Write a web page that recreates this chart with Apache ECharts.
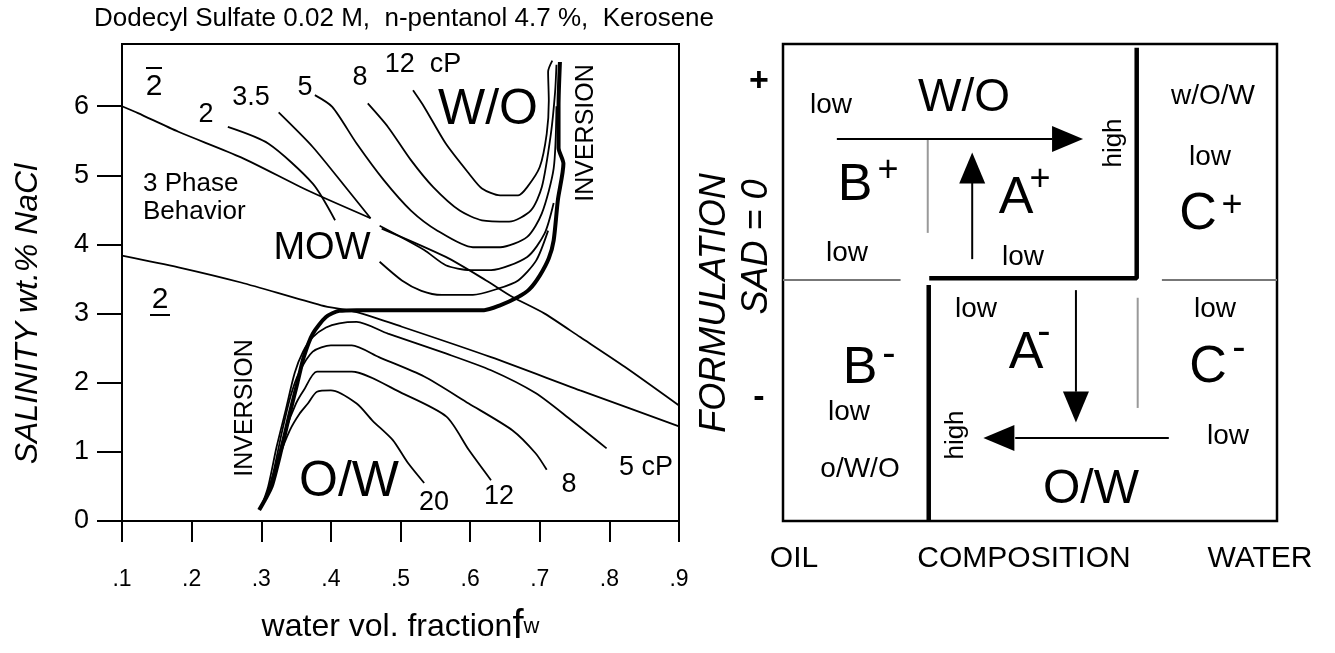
<!DOCTYPE html>
<html>
<head>
<meta charset="utf-8">
<script src="https://cdn.jsdelivr.net/npm/echarts@6/dist/echarts.min.js"></script>
<style>
  html, body { margin: 0; padding: 0; background: #fff; }
  #chart { width: 1335px; height: 653px; }
</style>
</head>
<body>
<div id="chart"></div>
<script>
// ---- left chart data: [water fraction fw, salinity wt.% NaCl] ----
const xTicks = [0.1, 0.2, 0.3, 0.4, 0.5, 0.6, 0.7, 0.8, 0.9]
const yTicks = [0, 1, 2, 3, 4, 5, 6]

// three phase boundaries
const phaseUpperA = [[0.1,6.0],[0.123,5.9],[0.181,5.63],[0.271,5.26],[0.367,4.78],[0.457,4.38]]
const phaseUpperB = [[0.473,4.23],[0.565,3.82],[0.623,3.48],[0.661,3.24],[0.707,3.0],[0.758,2.66],[0.822,2.23],[0.9,1.67]]
const phaseLower = [[0.1,3.84],[0.181,3.67],[0.271,3.45],[0.386,3.12],[0.437,3.02],[0.502,2.81],[0.63,2.37],[0.758,1.89],[0.9,1.37]]

// inversion line (thick)
const inversion = [[0.297,0.16],[0.305,0.3],[0.315,0.5],[0.328,1.0],[0.341,1.56],[0.352,2.0],[0.361,2.37],[0.374,2.71],
  [0.393,2.95],[0.412,3.04],[0.437,3.05],[0.62,3.05],[0.643,3.12],[0.669,3.24],[0.685,3.35],[0.7,3.55],[0.713,3.8],
  [0.72,4.06],[0.726,4.64],[0.734,5.17],[0.727,5.4],[0.727,6.0],[0.729,6.64]]

// O/W iso-viscosity curves (cP)
const ow5 = [[0.3,0.2],[0.31,0.5],[0.322,1.07],[0.335,1.6],[0.348,2.14],[0.36,2.45],[0.374,2.66],[0.393,2.8],[0.412,2.86],
  [0.437,2.88],[0.482,2.71],[0.566,2.42],[0.63,2.18],[0.694,1.85],[0.745,1.46],[0.796,1.05]]
const ow8 = [[0.303,0.25],[0.315,0.6],[0.33,1.3],[0.342,1.8],[0.354,2.14],[0.374,2.45],[0.4,2.54],[0.43,2.54],[0.469,2.37],
  [0.534,2.09],[0.598,1.7],[0.661,1.31],[0.694,0.98],[0.71,0.74]]
const ow12 = [[0.305,0.3],[0.318,0.7],[0.335,1.31],[0.35,1.7],[0.361,1.89],[0.38,2.16],[0.43,2.16],[0.502,1.85],[0.566,1.51],
  [0.598,1.03],[0.63,0.59]]
const ow20 = [[0.31,0.4],[0.325,0.9],[0.341,1.31],[0.355,1.55],[0.367,1.7],[0.38,1.87],[0.4,1.89],[0.437,1.7],[0.46,1.45],
  [0.489,1.17],[0.51,0.85],[0.534,0.55]]

// W/O iso-viscosity curves (cP)
const wo2A = [[0.252,5.7],[0.31,5.46],[0.374,4.88],[0.406,4.35]]
const wo2B = [[0.47,3.75],[0.502,3.48],[0.53,3.33],[0.559,3.27],[0.604,3.27],[0.64,3.36],[0.669,3.48],[0.695,3.77],[0.712,4.2]]
const wo35A = [[0.325,5.91],[0.374,5.41],[0.425,4.78],[0.457,4.38]]
const wo35B = [[0.47,4.27],[0.534,3.92],[0.565,3.7],[0.6,3.63],[0.63,3.63],[0.682,3.82],[0.707,4.16],[0.72,4.6]]
const wo5 = [[0.377,6.16],[0.402,5.99],[0.437,5.46],[0.476,4.93],[0.515,4.49],[0.553,4.2],[0.604,3.96],[0.643,3.96],
  [0.682,4.11],[0.703,4.45],[0.72,5.1],[0.724,6.0]]
const wo8 = [[0.453,6.04],[0.482,5.7],[0.515,5.22],[0.547,4.83],[0.585,4.49],[0.617,4.35],[0.656,4.33],[0.687,4.49],
  [0.703,4.83],[0.716,5.6],[0.722,6.2],[0.724,6.6]]
const wo12 = [[0.518,6.23],[0.534,5.99],[0.565,5.46],[0.598,5.03],[0.617,4.81],[0.643,4.71],[0.669,4.71],[0.682,4.83],
  [0.7,5.12],[0.71,5.6],[0.713,6.08],[0.712,6.5],[0.718,6.66]]

// ---- right diagram (schematic, 0..100 both ways) ----
const thickTop = [[29.6,50.9],[71.6,50.9],[71.6,99.2]]
const thickBottom = [[29.5,0],[29.5,49.5]]
const grayLeft = [[0,50.5],[23.8,50.5]]
const grayRight = [[76.7,50.5],[100,50.5]]
const grayV1 = [[29.3,60.4],[29.3,79.9]]
const grayV2 = [[71.8,23.7],[71.8,46.8]]
const shaftRight = [[10.9,80.1],[54.5,80.1]]
const shaftUp = [[38.3,54.9],[38.3,70.9]]
const shaftDown = [[59.3,48.4],[59.3,27.1]]
const shaftLeft = [[78.1,17.4],[47.0,17.4]]
// arrow heads: [x, y, direction deg]
const heads = [[57.6,80.1,-90],[38.3,74.0,0],[59.3,23.9,180],[43.7,17.4,90]]

const FONT = 'Liberation Sans, Arial, sans-serif'

function line(data, width, color, xi) {
  return {
    type:'line', data:data, xAxisIndex:xi, yAxisIndex:xi, showSymbol:false, symbol:'none',
    smooth: xi === 0 ? 0.25 : false, silent:true,
    lineStyle:{color:color||'#000', width:width}
  }
}

// text annotations
function txt(x, y, text, size, bold) {
  return {
    type:'text', x:x, y:y, silent:true,
    style:{text:text, fontSize:size, fontFamily:FONT, fill:'#000', align:'center', verticalAlign:'middle',
      fontWeight: bold ? 'bold' : 'normal'}
  }
}
function rot(x, y, text, size, italic) {
  return {
    type:'text', x:x, y:y, rotation:Math.PI/2, silent:true,
    style:{text:text, fontSize:size, fontFamily:FONT, fill:'#000', align:'center', verticalAlign:'middle',
      fontStyle: italic ? 'italic' : 'normal'}
  }
}
function left(x, y, text, size) {
  let t = txt(x, y, text, size)
  t.style.align = 'left'
  return t
}
function bar(x1, x2, y) {
  return {type:'line', silent:true, shape:{x1:x1, y1:y, x2:x2, y2:y}, style:{stroke:'#000', lineWidth:2}}
}

const notes = [
  txt(404, 19, 'Dodecyl Sulfate 0.02 M,  n-pentanol 4.7 %,  Kerosene', 26),
  rot(28, 314, 'SALINITY wt.% NaCl', 32, true),
  // left chart
  txt(154, 87, '2', 30), bar(146, 162, 68),
  txt(206, 115, '2', 27),
  txt(251, 98, '3.5', 27),
  txt(305, 88, '5', 27),
  txt(360, 78, '8', 27),
  txt(423, 65, '12  cP', 27),
  txt(488, 110, 'W/O', 50),
  rot(586, 133, 'INVERSION', 25),
  left(143, 184, '3 Phase', 26),
  left(143, 212, 'Behavior', 26),
  txt(322, 249, 'MOW', 38),
  txt(160, 300, '2', 30), bar(150, 170, 315),
  rot(245, 408, 'INVERSION', 25),
  txt(349, 482, 'O/W', 50),
  txt(434, 503, '20', 27),
  txt(499, 497, '12', 27),
  txt(569, 485, '8', 27),
  txt(646, 468, '5 cP', 27),
  // right diagram
  txt(759, 82, '+', 34, true),
  txt(759, 398, '-', 34, true),
  rot(715, 303, 'FORMULATION', 36, true),
  rot(757, 247, 'SAD = 0', 36, true),
  txt(831, 105, 'low', 28),
  txt(964, 98, 'W/O', 46),
  rot(1114, 143, 'high', 26),
  txt(1213, 96, 'w/O/W', 28),
  txt(1210, 157, 'low', 28),
  txt(855, 186, 'B', 52), txt(888, 171, '+', 36),
  txt(1016, 199, 'A', 52), txt(1040, 180, '+', 36),
  txt(1198, 215, 'C', 52), txt(1232, 206, '+', 36),
  txt(847, 253, 'low', 28),
  txt(1023, 257, 'low', 28),
  txt(976, 309, 'low', 28),
  txt(1026, 354, 'A', 52), txt(1044, 333, '-', 40),
  txt(860, 369, 'B', 52), txt(889, 355, '-', 40),
  txt(1208, 368, 'C', 52), txt(1239, 349, '-', 40),
  txt(1215, 309, 'low', 28),
  txt(849, 412, 'low', 28),
  rot(956, 435, 'high', 26),
  txt(1228, 436, 'low', 28),
  txt(860, 469, 'o/W/O', 28),
  txt(1091, 490, 'O/W', 48),
  txt(794, 559, 'OIL', 30),
  txt(1024, 559, 'COMPOSITION', 30),
  txt(1260, 559, 'WATER', 30)
]

let chart = echarts.init(document.getElementById('chart'), null, {renderer:'canvas'})

let series = [
  line(phaseUpperA, 1.8, '#000', 0),
  line(phaseUpperB, 1.8, '#000', 0),
  line(phaseLower, 1.8, '#000', 0),
  line(ow5, 1.8, '#000', 0),
  line(ow8, 1.8, '#000', 0),
  line(ow12, 1.8, '#000', 0),
  line(ow20, 1.8, '#000', 0),
  line(wo2A, 1.8, '#000', 0),
  line(wo2B, 1.8, '#000', 0),
  line(wo35A, 1.8, '#000', 0),
  line(wo35B, 1.8, '#000', 0),
  line(wo5, 1.8, '#000', 0),
  line(wo8, 1.8, '#000', 0),
  line(wo12, 1.8, '#000', 0),
  line(inversion, 4, '#000', 0),
  // right
  line(grayLeft, 2, '#777', 1),
  line(grayRight, 2, '#777', 1),
  line(grayV1, 2, '#999', 1),
  line(grayV2, 2, '#999', 1),
  line(thickTop, 4.5, '#000', 1),
  line(thickBottom, 4.5, '#000', 1),
  line(shaftRight, 2, '#000', 1),
  line(shaftUp, 2, '#000', 1),
  line(shaftDown, 2, '#000', 1),
  line(shaftLeft, 2, '#000', 1),
  {
    type:'scatter', xAxisIndex:1, yAxisIndex:1, silent:true,
    data: heads.map(h => ({value:[h[0], h[1]], symbolRotate:h[2]})),
    symbol:'triangle', symbolSize:[26,31], itemStyle:{color:'#000', opacity:1}
  }
]

chart.setOption({
  backgroundColor:'#fff',
  animation:false,
  textStyle:{fontFamily:FONT},
  grid:[
    {left:122, top:44, width:557, height:477, show:true, borderColor:'#000', borderWidth:2},
    {left:783, top:44, width:494, height:477, show:true, borderColor:'#000', borderWidth:2.5}
  ],
  xAxis:[
    {
      type:'value', gridIndex:0, min:0.1, max:0.9, interval:0.1,
      axisLine:{show:true, onZero:false, lineStyle:{color:'#000', width:2}},
      axisTick:{show:true, inside:false, length:21, lineStyle:{color:'#000', width:2}},
      axisLabel:{fontSize:23, color:'#000', margin:47, fontFamily:FONT,
        formatter: v => v.toFixed(1).replace('0.', '.')},
      splitLine:{show:false},
      name:'{a|water vol. fraction}{f|f}{w|w}', nameLocation:'middle', nameGap:86,
      nameTextStyle:{color:'#000', rich:{
        a:{fontSize:32, fontFamily:FONT, color:'#000'},
        f:{fontSize:40, fontFamily:FONT, color:'#000'},
        w:{fontSize:22, fontFamily:FONT, color:'#000'}
      }}
    },
    {type:'value', gridIndex:1, min:0, max:100, show:false}
  ],
  yAxis:[
    {
      type:'value', gridIndex:0, min:0, max:6.9,
      axisLine:{show:true, onZero:false, lineStyle:{color:'#000', width:2}},
      axisTick:{show:true, inside:false, length:25, customValues:yTicks, lineStyle:{color:'#000', width:2}},
      axisLabel:{fontSize:27, color:'#000', margin:33, customValues:yTicks, fontFamily:FONT},
      splitLine:{show:false}
    },
    {type:'value', gridIndex:1, min:0, max:100, show:false}
  ],
  graphic: notes,
  series: series
})
</script>
</body>
</html>
